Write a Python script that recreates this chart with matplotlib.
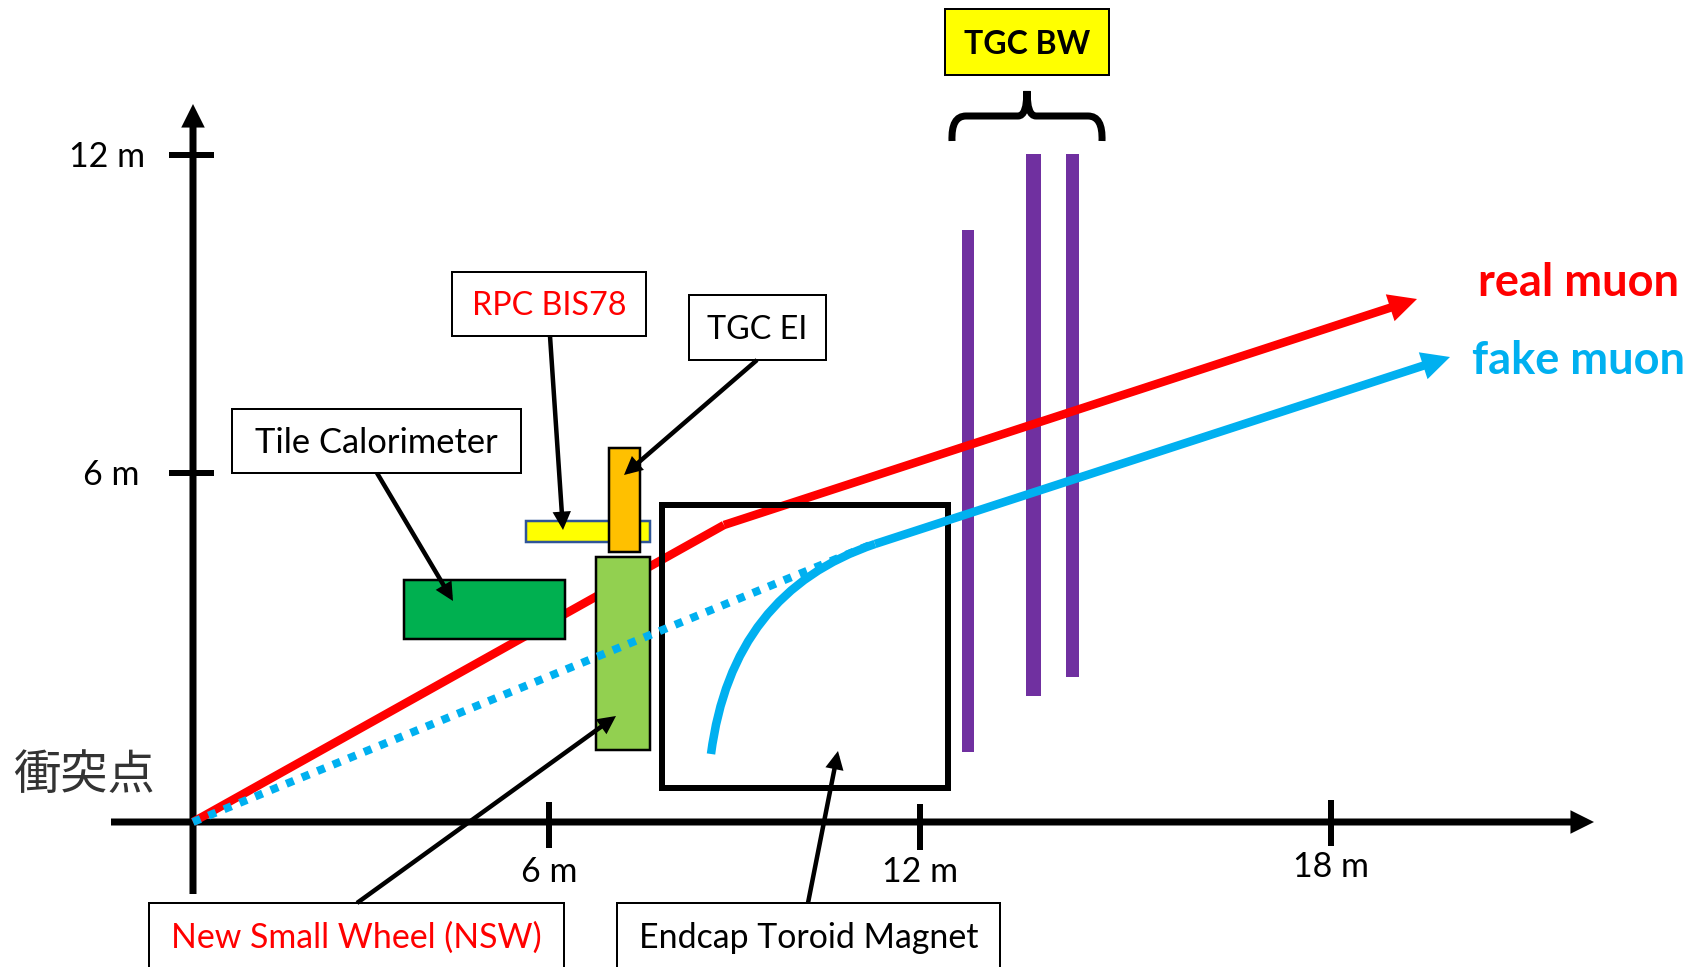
import matplotlib
matplotlib.use("Agg")
import matplotlib.pyplot as plt
from matplotlib.patches import Rectangle, FancyArrowPatch, PathPatch
from matplotlib.path import Path

#everything is in picture pixels, y pointing down
W, H = 1690, 967

#axes
yaxis_ticks = [155, 473]
yaxis_labels = ["12 m", "6 m"]
yaxis_label_x = [107, 111]
xaxis_ticks = [549, 920, 1331]
xaxis_tick_top = [802, 804, 800]
xaxis_labels = ["6 m", "12 m", "18 m"]
xaxis_label_y = [872, 872, 867]

#detectors: x0, y0, x1, y1, face, edge, edge width
yellow_bar = (526, 521, 650, 542, "#FFFF00", "#2F5597", 2.5)
orange_bar = (609, 448, 640, 552, "#FFC000", "black", 2.5)
nsw_bar = (596, 557, 650, 750, "#92D050", "black", 2.5)
tile_bar = (404, 580, 565, 639, "#00B050", "black", 2.5)

#TGC BW stations
purple_x0 = [962, 1026, 1066]
purple_x1 = [974, 1041, 1079]
purple_top = [230, 154, 154]
purple_bottom = [752, 696, 677]

#toroid frame
toroid = (662, 505, 948, 788)

#tracks
real_x = [193, 724, 1417]
real_y = [822, 525, 299]
fake_dot_x = [193, 875]
fake_dot_y = [822, 543]
fake_curve = [(711, 754), (732, 592), (875, 544)]
fake_end = (1450, 357)

#label boxes: text, colour, x0, y0, x1, y1
label_boxes = [
    ("Tile Calorimeter", "black", 232, 409, 521, 473),
    ("RPC BIS78", "red", 452, 272, 646, 336),
    ("TGC EI", "black", 689, 295, 826, 360),
    ("New Small Wheel (NSW)", "red", 149, 903, 564, 1000),
    ("Endcap Toroid Magnet", "black", 617, 903, 1000, 1000),
]
label_text_y = [443, 306, 330, 938, 938]
label_sizes = [24.8, 23.2, 23.2, 24.4, 24.4]

#pointer arrows
pointer_start = [(377, 473), (550, 336), (757, 360), (357, 903), (808, 903)]
pointer_tip = [(453, 601), (563, 530), (624, 475), (616, 716), (838, 751)]

plt.rcParams['font.family'] = ['Lato', 'DejaVu Sans']

fig = plt.figure(figsize=(W / 100, H / 100), dpi=100)
ax = fig.add_axes([0, 0, 1, 1])
ax.set_xlim(0, W)
ax.set_ylim(H, 0)
ax.axis("off")

px = 0.72  #pixels to points


def box(x0, y0, x1, y1, face, edge, width, z):
    ax.add_patch(Rectangle((x0, y0), x1 - x0, y1 - y0, facecolor=face,
                           edgecolor=edge, linewidth=width * px, zorder=z))


def arrow(start, tip, color, width, scale, z):
    ax.add_patch(FancyArrowPatch(start, tip, arrowstyle="-|>", mutation_scale=scale,
                                 color=color, linewidth=width * px, shrinkA=0, shrinkB=0,
                                 joinstyle="miter", capstyle="butt", zorder=z))


#axes and ticks
arrow((111, 822), (1594, 822), "black", 7, 22, 2)
arrow((193, 894), (193, 104), "black", 7, 22, 2)
for y, s, lx in zip(yaxis_ticks, yaxis_labels, yaxis_label_x):
    ax.plot([169, 214], [y, y], color="black", lw=6 * px, solid_capstyle="butt", zorder=2)
    ax.text(lx, y + 2, s, fontsize=24.5, ha="center", va="center")
for x, top, s, ly in zip(xaxis_ticks, xaxis_tick_top, xaxis_labels, xaxis_label_y):
    ax.plot([x, x], [top, top + 46], color="black", lw=6 * px, solid_capstyle="butt", zorder=2)
    ax.text(x, ly, s, fontsize=24.5, ha="center", va="center")
ax.text(84, 776, "衝突点", fontsize=34, ha="center", va="center", color="#333333",
        family=["Noto Sans CJK JP", "DejaVu Sans"])

#TGC BW
for x0, x1, top, bottom in zip(purple_x0, purple_x1, purple_top, purple_bottom):
    box(x0, top, x1, bottom, "#7030A0", "none", 0, 3)

#real muon
ax.plot(real_x[:2], real_y[:2], color="red", lw=8.5 * px, solid_capstyle="butt", zorder=4)
arrow((real_x[1], real_y[1]), (real_x[2], real_y[2]), "red", 8.5, 26, 4)

#fake muon
fake_blue = "#00B0F0"
ax.plot(fake_dot_x, fake_dot_y, color=fake_blue, lw=8 * px, linestyle=(0, (1, 1.1)),
        dash_capstyle="butt", zorder=8)
ax.add_patch(PathPatch(Path(fake_curve, [Path.MOVETO, Path.CURVE3, Path.CURVE3]),
                       facecolor="none", edgecolor=fake_blue, linewidth=8.5 * px,
                       capstyle="butt", zorder=8))
arrow(fake_curve[2], fake_end, fake_blue, 8.5, 26, 8)

#detectors cover the red track
for b in [yellow_bar, orange_bar, nsw_bar, tile_bar]:
    box(*b, 5)
box(*toroid, "none", "black", 6, 6)

#label boxes
for (s, color, x0, y0, x1, y1), ty, fs in zip(label_boxes, label_text_y, label_sizes):
    box(x0, y0, x1, y1, "white", "black", 2, 9)
    ax.text((x0 + x1) / 2, ty, s, color=color, fontsize=fs, ha="center", va="center", zorder=10)

for start, tip in zip(pointer_start, pointer_tip):
    arrow(start, tip, "black", 4.5, 20, 11)

#TGC BW box and brace
box(945, 9, 1109, 75, "#FFFF00", "black", 2, 9)
ax.text(1027, 44, "TGC BW", fontsize=23, fontweight="bold", ha="center", va="center", zorder=10)
brace = [(952, 141), (951, 116), (966, 116), (1018, 116), (1027, 116), (1027, 91),
         (1027, 116), (1036, 116), (1088, 116), (1103, 116), (1102, 141)]
brace_codes = [Path.MOVETO, Path.CURVE3, Path.CURVE3, Path.LINETO, Path.CURVE3, Path.CURVE3,
               Path.CURVE3, Path.CURVE3, Path.LINETO, Path.CURVE3, Path.CURVE3]
ax.add_patch(PathPatch(Path(brace, brace_codes), facecolor="none", edgecolor="black",
                       linewidth=7 * px, capstyle="butt", zorder=3))

ax.text(1579, 283, "real muon", color="red", fontsize=32.5, fontweight="bold", ha="center", va="center")
ax.text(1579, 361, "fake muon", color=fake_blue, fontsize=32.5, fontweight="bold", ha="center", va="center")

fig.savefig("out.png", dpi=100)
